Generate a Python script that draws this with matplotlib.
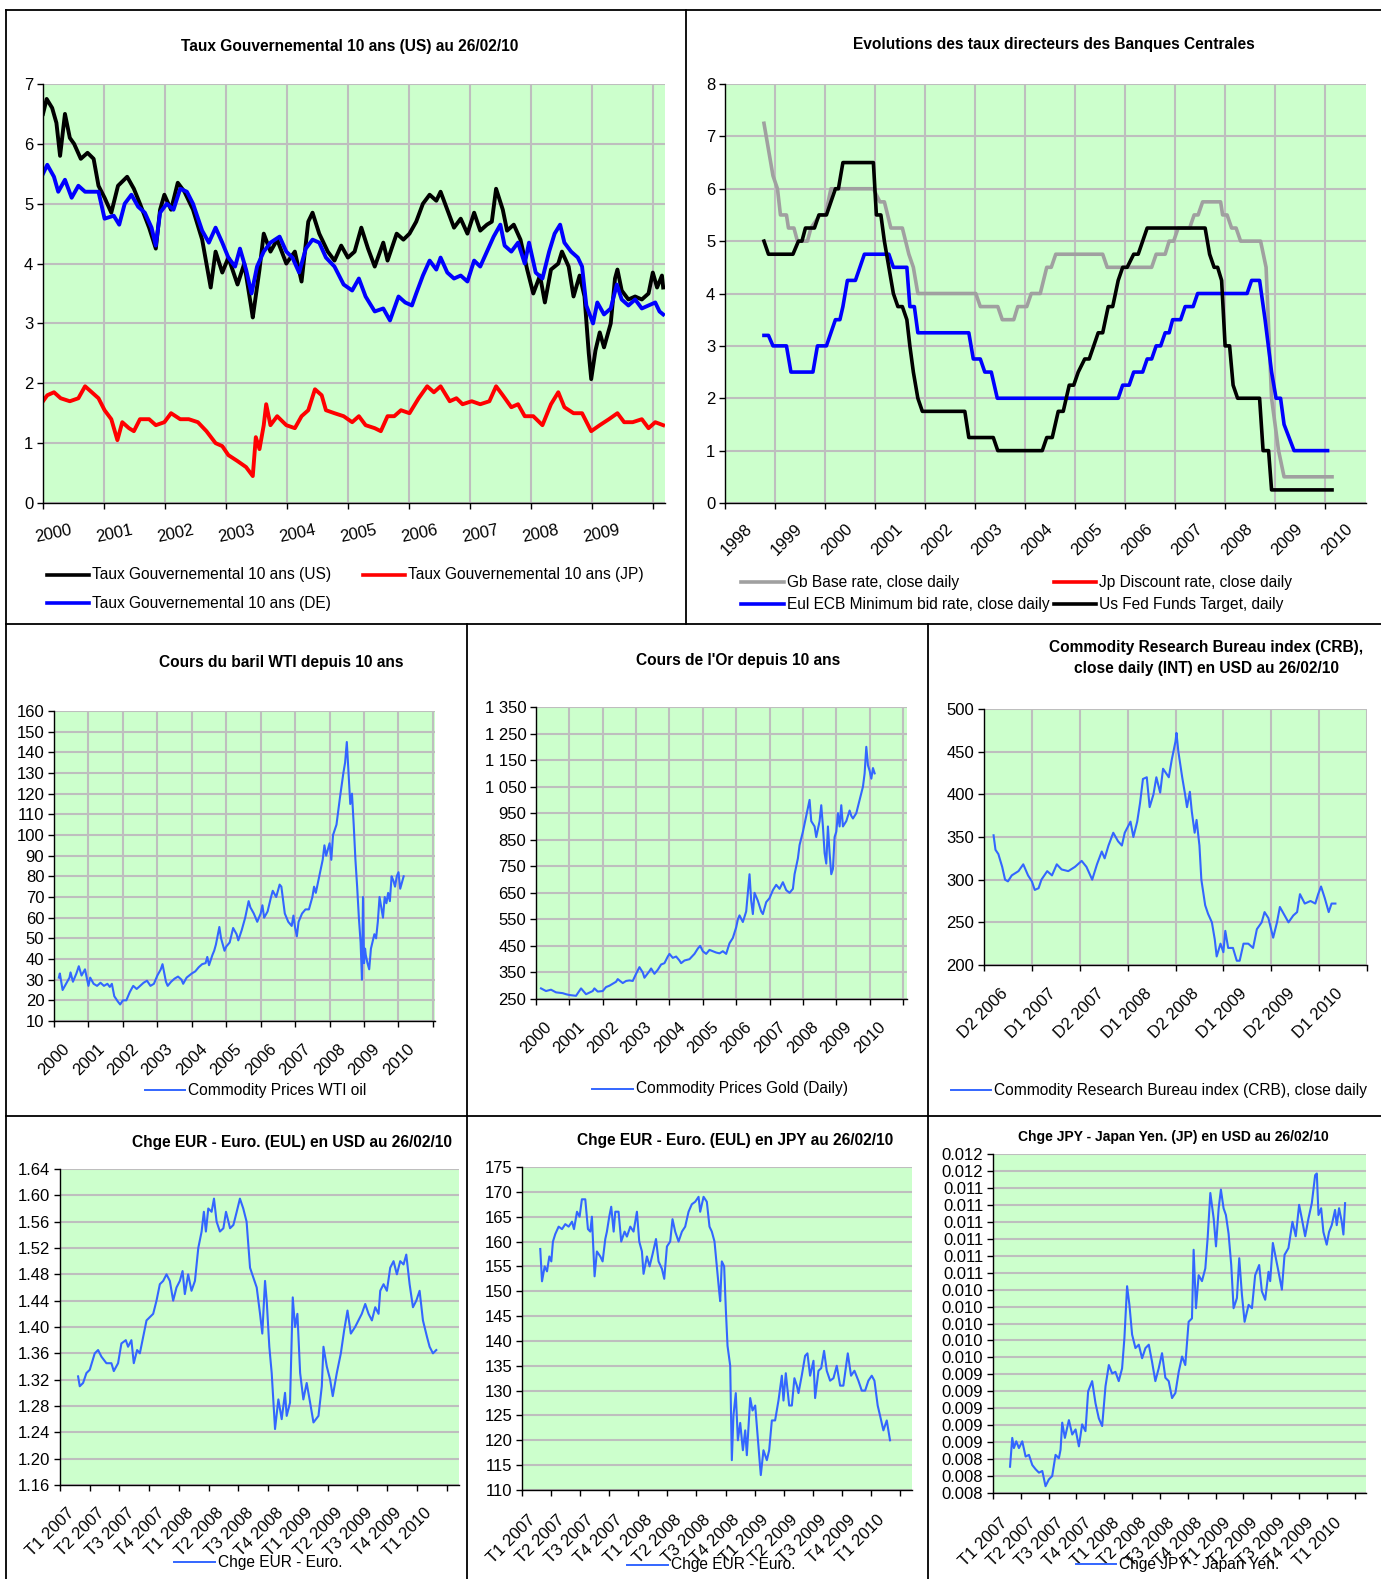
import matplotlib
matplotlib.use("Agg")
import matplotlib.pyplot as plt
from matplotlib.lines import Line2D

plt.rcParams['font.family'] = ['Liberation Sans', 'DejaVu Sans']

W, H = 1381, 1579
GREEN = '#CCFFCC'
GRID = '#BEBEBE'
LBLUE = '#3366FF'
TICK_FS = 12

# ---- Taux gouvernementaux 10 ans ----
us_t = [2000.00, 2000.06, 2000.15, 2000.22, 2000.28, 2000.36, 2000.44, 2000.51, 2000.62, 2000.73, 2000.83,
        2000.91, 2001.01, 2001.12, 2001.23, 2001.38, 2001.49, 2001.59, 2001.74, 2001.85, 2001.92, 2001.99,
        2002.10, 2002.21, 2002.32, 2002.46, 2002.61, 2002.75, 2002.83, 2002.94, 2003.04, 2003.19, 2003.30,
        2003.41, 2003.44, 2003.55, 2003.62, 2003.73, 2003.84, 2003.99, 2004.13, 2004.24, 2004.35, 2004.42,
        2004.53, 2004.67, 2004.78, 2004.89, 2005.00, 2005.11, 2005.22, 2005.33, 2005.44, 2005.58, 2005.65,
        2005.80, 2005.91, 2006.01, 2006.12, 2006.23, 2006.34, 2006.45, 2006.52, 2006.63, 2006.74, 2006.85,
        2006.96, 2007.07, 2007.17, 2007.28, 2007.36, 2007.43, 2007.54, 2007.61, 2007.72, 2007.83, 2007.94,
        2008.04, 2008.15, 2008.23, 2008.33, 2008.45, 2008.51, 2008.62, 2008.70, 2008.80, 2008.88, 2008.95,
        2008.99, 2009.06, 2009.13, 2009.20, 2009.31, 2009.38, 2009.42, 2009.49, 2009.60, 2009.71, 2009.82,
        2009.93, 2010.00, 2010.07, 2010.15, 2010.17]
us_v = [6.5, 6.75, 6.6, 6.35, 5.8, 6.5, 6.1, 6.0, 5.75, 5.85, 5.75,
        5.3, 5.1, 4.85, 5.3, 5.45, 5.25, 5.0, 4.6, 4.25, 4.9, 5.15,
        4.9, 5.35, 5.2, 4.9, 4.4, 3.6, 4.2, 3.85, 4.1, 3.65, 4.0,
        3.3, 3.1, 3.9, 4.5, 4.2, 4.4, 4.0, 4.2, 3.7, 4.7, 4.85,
        4.5, 4.2, 4.05, 4.3, 4.1, 4.2, 4.6, 4.25, 3.95, 4.35, 4.05,
        4.5, 4.4, 4.5, 4.7, 5.0, 5.15, 5.05, 5.2, 4.9, 4.6, 4.75,
        4.5, 4.85, 4.55, 4.65, 4.7, 5.25, 4.9, 4.55, 4.65, 4.4, 3.9,
        3.5, 3.8, 3.35, 3.9, 4.0, 4.2, 3.95, 3.45, 3.8, 3.45, 2.5,
        2.07, 2.55, 2.85, 2.6, 3.0, 3.75, 3.9, 3.55, 3.4, 3.45, 3.4,
        3.5, 3.85, 3.6, 3.8, 3.6]
de_t = [2000.00, 2000.07, 2000.18, 2000.25, 2000.36, 2000.47, 2000.58, 2000.69, 2000.80, 2000.91, 2001.01,
        2001.16, 2001.25, 2001.34, 2001.45, 2001.56, 2001.67, 2001.78, 2001.85, 2001.92, 2002.03, 2002.14,
        2002.25, 2002.36, 2002.46, 2002.61, 2002.72, 2002.83, 2002.94, 2003.04, 2003.15, 2003.23, 2003.33,
        2003.42, 2003.51, 2003.62, 2003.73, 2003.88, 2003.99, 2004.09, 2004.20, 2004.31, 2004.42, 2004.53,
        2004.64, 2004.78, 2004.93, 2005.07, 2005.18, 2005.29, 2005.44, 2005.58, 2005.69, 2005.83, 2005.94,
        2006.05, 2006.12, 2006.23, 2006.34, 2006.45, 2006.52, 2006.63, 2006.74, 2006.85, 2006.96, 2007.07,
        2007.17, 2007.28, 2007.39, 2007.50, 2007.57, 2007.68, 2007.79, 2007.90, 2007.97, 2008.08, 2008.19,
        2008.30, 2008.39, 2008.48, 2008.55, 2008.66, 2008.77, 2008.84, 2008.91, 2009.02, 2009.09, 2009.20,
        2009.31, 2009.41, 2009.49, 2009.60, 2009.71, 2009.82, 2009.93, 2010.04, 2010.11, 2010.17]
de_v = [5.5, 5.65, 5.45, 5.2, 5.4, 5.1, 5.3, 5.2, 5.2, 5.2, 4.75,
        4.8, 4.65, 5.0, 5.15, 4.95, 4.85, 4.6, 4.3, 4.85, 5.0, 4.9,
        5.25, 5.2, 5.0, 4.55, 4.35, 4.6, 4.35, 4.1, 3.95, 4.25, 3.9,
        3.5, 3.95, 4.2, 4.35, 4.45, 4.2, 4.1, 3.85, 4.25, 4.4, 4.35,
        4.1, 3.95, 3.65, 3.55, 3.75, 3.45, 3.2, 3.25, 3.05, 3.45, 3.35,
        3.3, 3.5, 3.8, 4.05, 3.9, 4.1, 3.85, 3.75, 3.8, 3.7, 4.05,
        3.95, 4.2, 4.45, 4.65, 4.3, 4.2, 4.35, 4.0, 4.35, 3.85, 3.75,
        4.2, 4.5, 4.65, 4.35, 4.2, 4.1, 3.95, 3.3, 3.0, 3.35, 3.15,
        3.25, 3.65, 3.4, 3.3, 3.4, 3.25, 3.3, 3.35, 3.2, 3.15]
jp_t = [2000.00, 2000.07, 2000.18, 2000.29, 2000.44, 2000.58, 2000.69, 2000.80, 2000.91, 2001.01, 2001.12,
        2001.22, 2001.30, 2001.41, 2001.49, 2001.59, 2001.74, 2001.85, 2001.99, 2002.10, 2002.25, 2002.39,
        2002.54, 2002.68, 2002.83, 2002.94, 2003.04, 2003.19, 2003.33, 2003.44, 2003.49, 2003.55, 2003.62,
        2003.66, 2003.73, 2003.84, 2003.99, 2004.13, 2004.24, 2004.35, 2004.46, 2004.57, 2004.64, 2004.78,
        2004.93, 2005.07, 2005.18, 2005.29, 2005.44, 2005.54, 2005.65, 2005.76, 2005.87, 2006.01, 2006.16,
        2006.30, 2006.41, 2006.52, 2006.67, 2006.78, 2006.88, 2007.03, 2007.17, 2007.32, 2007.43, 2007.54,
        2007.68, 2007.79, 2007.90, 2008.04, 2008.19, 2008.33, 2008.45, 2008.55, 2008.70, 2008.84, 2008.99,
        2009.13, 2009.28, 2009.42, 2009.53, 2009.67, 2009.82, 2009.93, 2010.04, 2010.17]
jp_v = [1.7, 1.8, 1.85, 1.75, 1.7, 1.75, 1.95, 1.85, 1.75, 1.55, 1.4,
        1.05, 1.35, 1.25, 1.2, 1.4, 1.4, 1.3, 1.35, 1.5, 1.4, 1.4,
        1.35, 1.2, 1.0, 0.95, 0.8, 0.7, 0.6, 0.45, 1.1, 0.9, 1.3,
        1.65, 1.3, 1.45, 1.3, 1.25, 1.45, 1.55, 1.9, 1.8, 1.55, 1.5,
        1.45, 1.35, 1.45, 1.3, 1.25, 1.2, 1.45, 1.45, 1.55, 1.5, 1.75,
        1.95, 1.85, 1.95, 1.7, 1.75, 1.65, 1.7, 1.65, 1.7, 1.95, 1.8,
        1.6, 1.65, 1.45, 1.45, 1.3, 1.65, 1.85, 1.6, 1.5, 1.5, 1.2,
        1.3, 1.4, 1.5, 1.35, 1.35, 1.4, 1.25, 1.35, 1.3]
gov_years = list(range(2000, 2011))
gov_labels = [str(y) for y in range(2000, 2010)]

# ---- Taux directeurs ----
gb_t = [1998.78, 1998.96, 1999.05, 1999.11, 1999.23, 1999.27, 1999.38, 1999.45, 1999.65, 1999.72, 1999.90,
        2000.01, 2000.12, 2000.97, 2001.10, 2001.19, 2001.32, 2001.55, 2001.68, 2001.77, 2001.86, 2003.02,
        2003.11, 2003.46, 2003.55, 2003.78, 2003.86, 2004.04, 2004.13, 2004.31, 2004.44, 2004.53, 2004.62,
        2005.56, 2005.65, 2006.54, 2006.63, 2006.81, 2006.89, 2006.98, 2007.07, 2007.30, 2007.39, 2007.47,
        2007.56, 2007.92, 2007.96, 2008.05, 2008.14, 2008.23, 2008.32, 2008.72, 2008.83, 2008.94, 2009.08,
        2009.19, 2010.15]
gb_v = [7.25, 6.25, 6.0, 5.5, 5.5, 5.25, 5.25, 5.0, 5.0, 5.25, 5.5,
        5.5, 6.0, 6.0, 5.75, 5.75, 5.25, 5.25, 4.75, 4.5, 4.0, 4.0,
        3.75, 3.75, 3.5, 3.5, 3.75, 3.75, 4.0, 4.0, 4.5, 4.5, 4.75,
        4.75, 4.5, 4.5, 4.75, 4.75, 5.0, 5.0, 5.25, 5.25, 5.5, 5.5,
        5.75, 5.75, 5.5, 5.5, 5.25, 5.25, 5.0, 5.0, 4.5, 2.0, 1.0,
        0.5, 0.5]
fed_t = [1998.78, 1998.87, 1999.36, 1999.47, 1999.54, 1999.61, 1999.79, 1999.88, 2000.03, 2000.12, 2000.21,
         2000.27, 2000.36, 2000.97, 2001.03, 2001.12, 2001.19, 2001.28, 2001.37, 2001.46, 2001.55, 2001.64,
         2001.70, 2001.77, 2001.86, 2001.95, 2002.80, 2002.88, 2003.37, 2003.46, 2004.35, 2004.44, 2004.55,
         2004.67, 2004.77, 2004.89, 2004.98, 2005.07, 2005.20, 2005.29, 2005.38, 2005.47, 2005.56, 2005.67,
         2005.76, 2005.87, 2005.96, 2006.05, 2006.18, 2006.27, 2006.36, 2006.45, 2007.61, 2007.70, 2007.79,
         2007.86, 2007.94, 2008.01, 2008.10, 2008.17, 2008.26, 2008.70, 2008.77, 2008.88, 2008.94, 2010.15]
fed_v = [5.0, 4.75, 4.75, 5.0, 5.0, 5.25, 5.25, 5.5, 5.5, 5.75, 6.0,
         6.0, 6.5, 6.5, 5.5, 5.5, 5.0, 4.5, 4.0, 3.75, 3.75, 3.5,
         3.0, 2.5, 2.0, 1.75, 1.75, 1.25, 1.25, 1.0, 1.0, 1.25, 1.25,
         1.75, 1.75, 2.25, 2.25, 2.5, 2.75, 2.75, 3.0, 3.25, 3.25, 3.75,
         3.75, 4.25, 4.5, 4.5, 4.75, 4.75, 5.0, 5.25, 5.25, 4.75, 4.5,
         4.5, 4.25, 3.0, 3.0, 2.25, 2.0, 2.0, 1.0, 1.0, 0.25, 0.25]
ecb_t = [1998.78, 1998.87, 1998.96, 1999.23, 1999.32, 1999.76, 1999.85, 2000.03, 2000.12, 2000.21, 2000.30,
         2000.36, 2000.45, 2000.61, 2000.70, 2000.79, 2001.28, 2001.37, 2001.64, 2001.70, 2001.79, 2001.86,
         2002.88, 2002.97, 2003.11, 2003.20, 2003.33, 2003.45, 2005.87, 2005.96, 2006.09, 2006.18, 2006.36,
         2006.45, 2006.54, 2006.63, 2006.72, 2006.81, 2006.89, 2006.96, 2007.12, 2007.21, 2007.37, 2007.46,
         2008.45, 2008.54, 2008.70, 2008.81, 2008.94, 2009.03, 2009.12, 2009.19, 2009.39, 2010.06]
ecb_v = [3.2, 3.2, 3.0, 3.0, 2.5, 2.5, 3.0, 3.0, 3.25, 3.5, 3.5,
         3.75, 4.25, 4.25, 4.5, 4.75, 4.75, 4.5, 4.5, 3.75, 3.75, 3.25,
         3.25, 2.75, 2.75, 2.5, 2.5, 2.0, 2.0, 2.25, 2.25, 2.5, 2.5,
         2.75, 2.75, 3.0, 3.0, 3.25, 3.25, 3.5, 3.5, 3.75, 3.75, 4.0,
         4.0, 4.25, 4.25, 3.5, 2.5, 2.0, 2.0, 1.5, 1.0, 1.0]
cb_years = list(range(1998, 2011))

# ---- WTI ----
wti_t = [2000.14, 2000.17, 2000.25, 2000.35, 2000.45, 2000.48, 2000.55, 2000.65, 2000.72, 2000.80, 2000.90, 2000.95,
         2001.00, 2001.05, 2001.15, 2001.25, 2001.35, 2001.45, 2001.55, 2001.62, 2001.68, 2001.75, 2001.85, 2001.92,
         2002.00, 2002.10, 2002.20, 2002.30, 2002.40, 2002.50, 2002.60, 2002.70, 2002.80, 2002.90,
         2003.00, 2003.10, 2003.15, 2003.25, 2003.30, 2003.40, 2003.50, 2003.60, 2003.70, 2003.75, 2003.85,
         2004.00, 2004.10, 2004.20, 2004.30, 2004.40, 2004.45, 2004.50, 2004.60, 2004.65, 2004.70, 2004.80, 2004.85, 2004.95,
         2005.00, 2005.10, 2005.20, 2005.30, 2005.35, 2005.45, 2005.55, 2005.65, 2005.70, 2005.80, 2005.90,
         2006.00, 2006.05, 2006.10, 2006.20, 2006.30, 2006.35, 2006.45, 2006.55, 2006.60, 2006.70, 2006.80, 2006.90, 2006.95,
         2007.00, 2007.05, 2007.10, 2007.20, 2007.30, 2007.40, 2007.50, 2007.55, 2007.60, 2007.70, 2007.80, 2007.85, 2007.90,
         2008.00, 2008.05, 2008.10, 2008.20, 2008.30, 2008.40, 2008.45, 2008.50, 2008.55, 2008.60, 2008.65, 2008.70,
         2008.75, 2008.80, 2008.85, 2008.90, 2008.94, 2008.97,
         2009.00, 2009.03, 2009.05, 2009.10, 2009.15, 2009.20, 2009.30, 2009.35, 2009.40, 2009.45, 2009.50, 2009.55,
         2009.60, 2009.65, 2009.70, 2009.75, 2009.80, 2009.85, 2009.90, 2009.95,
         2010.00, 2010.05, 2010.10, 2010.15]
wti_v = [31, 33, 25, 28, 31, 33.5, 29, 33, 36.5, 32, 35, 31,
         27, 31, 28, 27, 28.5, 27, 28, 26.5, 28, 22, 19.5, 18,
         20, 20, 24, 27, 25.5, 27, 28.5, 29.5, 27, 28,
         32, 35, 37.5, 29, 27, 29, 30.5, 31.5, 30, 28, 31,
         33, 34, 36, 37.5, 38, 41, 37, 42, 44, 47, 55.5, 50, 44,
         46, 48, 55, 52, 49, 54, 60, 68, 65, 62, 58,
         62, 66, 60, 63, 70, 73, 70, 76, 75, 62, 58, 56, 61,
         55, 51, 58, 62, 64, 64, 70, 75, 72, 80, 88, 95, 90,
         96, 88, 100, 105, 118, 130, 135, 145, 130, 115, 120, 105,
         88, 75, 60, 48, 30, 70,
         38, 45, 42, 38, 35, 45, 52, 50, 58, 70, 65, 60,
         70, 67, 72, 68, 80, 78, 75, 80,
         82, 74, 77, 80]
wti_years = list(range(2000, 2012))
wti_labels = [str(y) for y in range(2000, 2011)]
wti_yticks = list(range(10, 161, 10))

# ---- Or ----
gold_t = [2000.15, 2000.30, 2000.45, 2000.60, 2000.80, 2000.90,
          2001.00, 2001.20, 2001.35, 2001.50, 2001.70, 2001.75, 2001.85,
          2002.00, 2002.10, 2002.20, 2002.40, 2002.45, 2002.60, 2002.70, 2002.80, 2002.90,
          2003.00, 2003.10, 2003.20, 2003.25, 2003.40, 2003.45, 2003.55, 2003.65, 2003.75, 2003.85, 2003.95,
          2004.00, 2004.10, 2004.20, 2004.30, 2004.35, 2004.45, 2004.60, 2004.75, 2004.85, 2004.92,
          2005.00, 2005.10, 2005.20, 2005.30, 2005.40, 2005.50, 2005.60, 2005.70, 2005.75, 2005.80, 2005.90,
          2006.00, 2006.05, 2006.10, 2006.20, 2006.30, 2006.35, 2006.40, 2006.45, 2006.50, 2006.55, 2006.65,
          2006.75, 2006.80, 2006.90,
          2007.00, 2007.10, 2007.20, 2007.30, 2007.40, 2007.50, 2007.60, 2007.70, 2007.75, 2007.85, 2007.90,
          2008.00, 2008.10, 2008.20, 2008.25, 2008.35, 2008.40, 2008.50, 2008.55, 2008.60, 2008.65, 2008.70,
          2008.75, 2008.80, 2008.85, 2008.90, 2008.95,
          2009.00, 2009.05, 2009.10, 2009.15, 2009.20, 2009.30, 2009.40, 2009.45, 2009.50, 2009.60, 2009.70,
          2009.80, 2009.85, 2009.90, 2009.95,
          2010.00, 2010.05, 2010.10, 2010.15]
gold_v = [290, 280, 285, 275, 272, 268,
          265, 262, 290, 268, 280, 290, 278,
          280, 295, 300, 315, 325, 310, 318, 320, 318,
          345, 370, 350, 330, 355, 365, 345, 360, 380, 385, 410,
          420, 405, 410, 395, 385, 395, 400, 420, 440, 450,
          430, 420, 435, 430, 425, 422, 430, 420, 440, 460, 480,
          520, 550, 565, 540, 580, 650, 720, 620, 570, 650, 620,
          580, 570, 615,
          630, 660, 680, 665, 690, 660, 650, 665, 720, 780, 830,
          880, 940, 1000, 920, 900, 860, 920, 980, 900, 800, 760,
          900, 800, 720, 740, 860,
          880, 950, 900, 980, 900, 920, 960, 940, 930, 950, 1000,
          1050, 1100, 1200, 1130,
          1110, 1080, 1120, 1100]
gold_yticks = list(range(250, 1351, 100))
gold_ylabels = ['250', '350', '450', '550', '650', '750', '850', '950', '1 050', '1 150', '1 250', '1 350']

# ---- CRB ----
crb_t = [2006.60, 2006.62, 2006.65, 2006.69, 2006.72, 2006.75, 2006.79, 2006.86, 2006.91, 2006.96,
         2007.00, 2007.03, 2007.07, 2007.10, 2007.16, 2007.21, 2007.26, 2007.31, 2007.38, 2007.45, 2007.52,
         2007.57, 2007.63, 2007.68, 2007.73, 2007.76, 2007.80, 2007.85, 2007.90, 2007.94, 2007.97,
         2008.03, 2008.06, 2008.10, 2008.13, 2008.16, 2008.20, 2008.23, 2008.27, 2008.30, 2008.34, 2008.37,
         2008.43, 2008.46, 2008.50, 2008.51, 2008.53, 2008.57, 2008.60, 2008.62, 2008.65, 2008.67, 2008.70,
         2008.72, 2008.75, 2008.77, 2008.81, 2008.84, 2008.88, 2008.91, 2008.93, 2008.97,
         2009.00, 2009.02, 2009.05, 2009.10, 2009.14, 2009.17, 2009.21, 2009.26, 2009.31, 2009.35, 2009.40,
         2009.43, 2009.47, 2009.52, 2009.56, 2009.59, 2009.63, 2009.68, 2009.73, 2009.77, 2009.80, 2009.85,
         2009.91, 2009.96, 2009.99,
         2010.02, 2010.06, 2010.10, 2010.13, 2010.17]
crb_v = [352, 335, 330, 315, 300, 298, 305, 310, 318, 305,
         298, 288, 290, 300, 310, 305, 318, 312, 310, 315, 322,
         315, 300, 318, 333, 325, 340, 355, 345, 340, 355,
         368, 350, 368, 390, 418, 420, 385, 400, 420, 402, 430,
         420, 440, 462, 472, 450, 420, 400, 385, 403, 380, 355,
         370, 340, 300, 270, 260, 250, 230, 210, 225,
         215, 240, 220, 220, 205, 205, 225, 225, 220, 242, 250,
         262, 255, 232, 250, 268, 260, 250, 258, 262, 283, 272,
         275, 272, 283,
         292, 278, 262, 272, 272]
crb_ticks = [2006.5, 2007.0, 2007.5, 2008.0, 2008.5, 2009.0, 2009.5, 2010.0, 2010.5]
crb_labels = ['D2 2006', 'D1 2007', 'D2 2007', 'D1 2008', 'D2 2008', 'D1 2009', 'D2 2009', 'D1 2010']
crb_yticks = [200, 250, 300, 350, 400, 450, 500]

# ---- trimestres (changes) ----
q_ticks = [2007.0, 2007.25, 2007.5, 2007.75, 2008.0, 2008.25, 2008.5, 2008.75,
           2009.0, 2009.25, 2009.5, 2009.75, 2010.0, 2010.25]
q_labels = ['T1 2007', 'T2 2007', 'T3 2007', 'T4 2007', 'T1 2008', 'T2 2008', 'T3 2008', 'T4 2008',
            'T1 2009', 'T2 2009', 'T3 2009', 'T4 2009', 'T1 2010']

eurusd_t = [2007.152, 2007.166, 2007.194, 2007.222, 2007.250, 2007.292, 2007.320, 2007.348, 2007.390, 2007.432,
            2007.452, 2007.488, 2007.516, 2007.553, 2007.572, 2007.600, 2007.620, 2007.648, 2007.671, 2007.699,
            2007.727, 2007.755, 2007.783, 2007.811, 2007.839, 2007.867, 2007.895, 2007.923, 2007.951, 2007.979,
            2008.007, 2008.030, 2008.049, 2008.077, 2008.105, 2008.134, 2008.162, 2008.190, 2008.209, 2008.226,
            2008.246, 2008.274, 2008.294, 2008.316, 2008.344, 2008.373, 2008.395, 2008.429, 2008.457, 2008.485,
            2008.512, 2008.540, 2008.568, 2008.597, 2008.625, 2008.653, 2008.681, 2008.700, 2008.723, 2008.737,
            2008.759, 2008.779, 2008.807, 2008.835, 2008.863, 2008.891, 2008.905, 2008.933, 2008.956, 2008.975,
            2008.995, 2009.018, 2009.045, 2009.073, 2009.102, 2009.130, 2009.172, 2009.200, 2009.214, 2009.242,
            2009.270, 2009.292, 2009.326, 2009.360, 2009.388, 2009.416, 2009.444, 2009.480, 2009.508, 2009.536,
            2009.565, 2009.593, 2009.621, 2009.649, 2009.677, 2009.691, 2009.719, 2009.747, 2009.775, 2009.803,
            2009.831, 2009.859, 2009.887, 2009.910, 2009.938, 2009.966, 2009.994, 2010.022, 2010.050, 2010.084,
            2010.106, 2010.134, 2010.162]
eurusd_v = [1.325, 1.31, 1.315, 1.33, 1.335, 1.36, 1.365, 1.355, 1.345, 1.345,
            1.333, 1.345, 1.375, 1.38, 1.37, 1.38, 1.345, 1.365, 1.36, 1.385,
            1.41, 1.415, 1.42, 1.44, 1.465, 1.47, 1.48, 1.47, 1.44, 1.46,
            1.47, 1.485, 1.45, 1.48, 1.455, 1.47, 1.52, 1.545, 1.575, 1.545,
            1.58, 1.575, 1.595, 1.56, 1.545, 1.55, 1.575, 1.55, 1.555, 1.575,
            1.595, 1.58, 1.56, 1.49, 1.475, 1.46, 1.42, 1.39, 1.47, 1.44,
            1.37, 1.33, 1.245, 1.29, 1.26, 1.30, 1.265, 1.285, 1.445, 1.40,
            1.42, 1.33, 1.29, 1.315, 1.285, 1.255, 1.265, 1.31, 1.37, 1.34,
            1.32, 1.295, 1.33, 1.36, 1.395, 1.425, 1.39, 1.40, 1.41, 1.42,
            1.435, 1.42, 1.41, 1.43, 1.42, 1.455, 1.465, 1.455, 1.49, 1.50,
            1.48, 1.50, 1.495, 1.51, 1.465, 1.43, 1.44, 1.455, 1.41, 1.385,
            1.37, 1.36, 1.365]
eurusd_yticks = [1.16, 1.20, 1.24, 1.28, 1.32, 1.36, 1.40, 1.44, 1.48, 1.52, 1.56, 1.60, 1.64]

eurjpy_t = [2007.157, 2007.172, 2007.195, 2007.215, 2007.235, 2007.252, 2007.266, 2007.286, 2007.315, 2007.344,
            2007.372, 2007.401, 2007.430, 2007.447, 2007.473, 2007.495, 2007.515, 2007.544, 2007.567, 2007.587,
            2007.601, 2007.616, 2007.624, 2007.644, 2007.673, 2007.693, 2007.716, 2007.730, 2007.750, 2007.767,
            2007.788, 2007.802, 2007.830, 2007.853, 2007.882, 2007.902, 2007.931, 2007.959, 2007.988, 2008.008,
            2008.031, 2008.045, 2008.074, 2008.097, 2008.123, 2008.152, 2008.174, 2008.203, 2008.223, 2008.246,
            2008.274, 2008.294, 2008.317, 2008.346, 2008.375, 2008.403, 2008.432, 2008.460, 2008.489, 2008.518,
            2008.532, 2008.561, 2008.589, 2008.612, 2008.632, 2008.655, 2008.675, 2008.695, 2008.704, 2008.718,
            2008.738, 2008.753, 2008.767, 2008.790, 2008.804, 2008.818, 2008.838, 2008.856, 2008.876, 2008.899,
            2008.919, 2008.933, 2008.962, 2008.982, 2009.005, 2009.025, 2009.039, 2009.053, 2009.076, 2009.105,
            2009.125, 2009.148, 2009.176, 2009.205, 2009.234, 2009.248, 2009.268, 2009.297, 2009.320, 2009.342,
            2009.363, 2009.377, 2009.405, 2009.434, 2009.454, 2009.477, 2009.506, 2009.520, 2009.549, 2009.572,
            2009.597, 2009.620, 2009.649, 2009.678, 2009.706, 2009.735, 2009.763, 2009.801, 2009.829, 2009.858,
            2009.892, 2009.921, 2009.950, 2009.978, 2010.007, 2010.030, 2010.058, 2010.078, 2010.107, 2010.136,
            2010.164]
eurjpy_v = [158.5, 152, 155, 154, 157, 156, 160, 161.5, 163, 162.5,
            163.5, 163, 164, 162.5, 166, 165, 168.5, 168.5, 162.5, 162,
            165, 157, 153, 158, 157, 156, 160.5, 162, 165, 167,
            162, 166, 166, 160, 162, 161, 163, 162, 166, 160,
            158, 153.5, 157, 155, 157.5, 160.5, 156, 154.5, 152.5, 159,
            160, 164.5, 162, 160, 162, 163, 166, 167.5, 168, 169,
            166, 169, 168, 163, 162, 160, 155, 150, 148, 156,
            155, 146, 139, 135, 116, 125, 129.5, 120, 123.5, 118,
            122, 117, 128.5, 126, 127, 121, 117, 113, 118, 116,
            118, 124, 124, 128, 133, 128, 133.5, 127, 127, 132.5,
            131, 129.5, 133, 137, 137.5, 133, 136, 128.5, 134, 134.5,
            138, 134, 132, 132.5, 135, 131, 131, 137.5, 133, 134,
            132, 130, 130, 132, 133, 132, 127, 125, 122, 124,
            120]
eurjpy_yticks = list(range(110, 176, 5))

jpy_t = [2007.153, 2007.173, 2007.188, 2007.209, 2007.233, 2007.263, 2007.293, 2007.323, 2007.353, 2007.383,
         2007.413, 2007.443, 2007.472, 2007.502, 2007.532, 2007.562, 2007.592, 2007.607, 2007.622, 2007.646,
         2007.682, 2007.712, 2007.742, 2007.772, 2007.801, 2007.831, 2007.855, 2007.891, 2007.921, 2007.951,
         2007.981, 2008.011, 2008.041, 2008.071, 2008.100, 2008.130, 2008.160, 2008.181, 2008.205, 2008.226,
         2008.250, 2008.280, 2008.310, 2008.340, 2008.370, 2008.400, 2008.429, 2008.459, 2008.489, 2008.519,
         2008.549, 2008.579, 2008.609, 2008.639, 2008.669, 2008.699, 2008.728, 2008.758, 2008.788, 2008.803,
         2008.824, 2008.848, 2008.878, 2008.908, 2008.929, 2008.953, 2008.983, 2009.004, 2009.028, 2009.048,
         2009.072, 2009.093, 2009.117, 2009.141, 2009.162, 2009.192, 2009.213, 2009.237, 2009.261, 2009.297,
         2009.327, 2009.356, 2009.392, 2009.416, 2009.446, 2009.476, 2009.491, 2009.515, 2009.542, 2009.566,
         2009.596, 2009.620, 2009.655, 2009.691, 2009.721, 2009.751, 2009.775, 2009.805, 2009.835, 2009.865,
         2009.895, 2009.910, 2009.925, 2009.949, 2009.969, 2009.999, 2010.020, 2010.044, 2010.074, 2010.089,
         2010.110, 2010.134, 2010.149, 2010.164]
jpy_v = [0.00831, 0.00865, 0.00853, 0.00861, 0.00853, 0.00861, 0.00843, 0.00845, 0.00833, 0.00828,
         0.00824, 0.00826, 0.00808, 0.00816, 0.00820, 0.00845, 0.00841, 0.00851, 0.00883, 0.00865,
         0.00886, 0.00869, 0.00875, 0.00855, 0.00881, 0.00873, 0.00920, 0.00932, 0.00906, 0.00888,
         0.00879, 0.00926, 0.00951, 0.00941, 0.00943, 0.00932, 0.00947, 0.00983, 0.01044, 0.01022,
         0.00987, 0.00971, 0.00975, 0.00959, 0.00971, 0.00975, 0.00955, 0.00932, 0.00947, 0.00965,
         0.00936, 0.00932, 0.00912, 0.00918, 0.00943, 0.00961, 0.00951, 0.01002, 0.01006, 0.01087,
         0.01018, 0.01057, 0.01050, 0.01065, 0.01101, 0.01154, 0.01124, 0.01091, 0.01136, 0.01158,
         0.01136, 0.01128, 0.01106, 0.01069, 0.01018, 0.01030, 0.01077, 0.01034, 0.01002, 0.01022,
         0.01018, 0.01057, 0.01069, 0.01038, 0.01028, 0.01061, 0.01050, 0.01095, 0.01077, 0.01061,
         0.01040, 0.01081, 0.01089, 0.01120, 0.01103, 0.01140, 0.01124, 0.01103, 0.01124, 0.01142,
         0.01175, 0.01177, 0.01128, 0.01136, 0.01108, 0.01093, 0.01108, 0.01116, 0.01134, 0.01116,
         0.01136, 0.01120, 0.01105, 0.01142]
jpy_yticks = [0.0080, 0.0082, 0.0084, 0.0086, 0.0088, 0.0090, 0.0092, 0.0094, 0.0096, 0.0098, 0.0100,
              0.0102, 0.0104, 0.0106, 0.0108, 0.0110, 0.0112, 0.0114, 0.0116, 0.0118, 0.0120]
jpy_ylabels = ['0.008', '0.008', '0.008', '0.009', '0.009', '0.009', '0.009', '0.009', '0.010', '0.010', '0.010',
               '0.010', '0.010', '0.011', '0.011', '0.011', '0.011', '0.011', '0.011', '0.012', '0.012']


fig = plt.figure(figsize=(W / 100, H / 100), dpi=100)


def px_rect(l, t, r, b):
    return [l / W, 1 - b / H, (r - l) / W, (b - t) / H]


def make_axes(box, xlim, ylim, xticks, yticks, ylabels, vgrid=True):
    ax = fig.add_axes(px_rect(*box))
    ax.set_facecolor(GREEN)
    ax.set_xlim(*xlim)
    ax.set_ylim(*ylim)
    ax.set_xticks(xticks)
    ax.set_xticklabels([])
    ax.set_yticks(yticks)
    ax.set_yticklabels(ylabels, fontsize=TICK_FS)
    ax.tick_params(direction='out', length=4, width=1, color='black', pad=3)
    for s in ('top', 'right'):
        ax.spines[s].set_visible(False)
    for s in ('left', 'bottom'):
        ax.spines[s].set_color('black')
        ax.spines[s].set_linewidth(1)
    ax.set_axisbelow(True)
    ax.grid(axis='y', color=GRID, lw=1.5)
    if vgrid:
        ax.grid(axis='x', color=GRID, lw=1.5)
    return ax


def xlabels(ax, ticks, labels, rot, dx, dy, ha='right', va='top', mode='anchor'):
    for t, s in zip(ticks, labels):
        ax.annotate(s, xy=(t, 0), xycoords=('data', 'axes fraction'), xytext=(dx, -dy),
                    textcoords='offset pixels', rotation=rot, ha=ha, va=va,
                    rotation_mode=mode, fontsize=TICK_FS, annotation_clip=False)


def title(cx, cy, s, size=11.2):
    fig.text(cx / W, 1 - cy / H, s, ha='center', va='center', fontsize=size, fontweight='bold')


def legend_entry(x1, x2, y, color, lw, s):
    fig.add_artist(Line2D([x1 / W, x2 / W], [1 - y / H, 1 - y / H], color=color, lw=lw))
    fig.text((x2 + 3) / W, 1 - y / H, s, ha='left', va='center', fontsize=11.2)


def frame_line(x1, y1, x2, y2):
    fig.add_artist(Line2D([x1 / W, x2 / W], [1 - y1 / H, 1 - y2 / H], color='black', lw=1.3))


# cadres
frame_line(6, 10, 1381, 10)
frame_line(6, 10, 6, 1579)
frame_line(6, 624, 1381, 624)
frame_line(6, 1116, 1381, 1116)
frame_line(686, 10, 686, 624)
frame_line(467, 624, 467, 1579)
frame_line(928, 624, 928, 1579)

# 1. Taux gouvernementaux
ax = make_axes((43, 84, 665, 503), (2000, 2010.2), (0, 7), gov_years, range(0, 8),
               [str(v) for v in range(0, 8)])
ax.plot(jp_t, jp_v, color='#FF0000', lw=2.8)
ax.plot(us_t, us_v, color='black', lw=2.8)
ax.plot(de_t, de_v, color='#0000FF', lw=2.8)
xlabels(ax, gov_years[:-1], gov_labels, 12, 10, 31, ha='center', va='center', mode='default')
title(350, 46, 'Taux Gouvernemental 10 ans (US) au 26/02/10')
legend_entry(47, 89, 575, 'black', 2.6, 'Taux Gouvernemental 10 ans (US)')
legend_entry(363, 405, 575, '#FF0000', 2.6, 'Taux Gouvernemental 10 ans (JP)')
legend_entry(47, 89, 603, '#0000FF', 2.6, 'Taux Gouvernemental 10 ans (DE)')

# 2. Taux directeurs
ax = make_axes((725, 84, 1366, 503), (1998, 2010.83), (0, 8), cb_years, range(0, 9),
               [str(v) for v in range(0, 9)])
ax.plot(gb_t, gb_v, color='#A0A0A0', lw=2.6)
ax.plot(ecb_t, ecb_v, color='#0000FF', lw=2.6)
ax.plot(fed_t, fed_v, color='black', lw=2.6)
xlabels(ax, cb_years, [str(y) for y in cb_years], 45, 20, 18)
title(1054, 44, 'Evolutions des taux directeurs des Banques Centrales')
legend_entry(741, 784, 582, '#A0A0A0', 2.6, 'Gb Base rate, close daily')
legend_entry(1054, 1096, 582, '#FF0000', 2.6, 'Jp Discount rate, close daily')
legend_entry(741, 784, 604, '#0000FF', 2.6, 'Eul ECB Minimum bid rate, close daily')
legend_entry(1054, 1096, 604, 'black', 2.6, 'Us Fed Funds Target, daily')

# 3. WTI
ax = make_axes((54, 711, 435, 1021), (2000, 2011.06), (10, 160), wti_years, wti_yticks,
               [str(v) for v in wti_yticks])
ax.plot(wti_t, wti_v, color=LBLUE, lw=1.5)
xlabels(ax, wti_years[:-1], wti_labels, 45, 8, 20)
title(281, 663, 'Cours du baril WTI depuis 10 ans')
legend_entry(145, 185, 1090, LBLUE, 1.4, 'Commodity Prices WTI oil')

# 4. Or
ax = make_axes((536, 707, 907, 999), (2000, 2011.12), (250, 1350), wti_years, gold_yticks, gold_ylabels)
ax.plot(gold_t, gold_v, color=LBLUE, lw=1.5)
xlabels(ax, wti_years[:-1], wti_labels, 45, 8, 20)
title(738, 660, "Cours de l'Or depuis 10 ans")
legend_entry(592, 633, 1089, LBLUE, 1.4, 'Commodity Prices Gold (Daily)')

# 5. CRB
ax = make_axes((984, 709, 1367, 965), (2006.5, 2010.5), (200, 500), crb_ticks, crb_yticks,
               [str(v) for v in crb_yticks])
ax.plot(crb_t, crb_v, color=LBLUE, lw=1.5)
xlabels(ax, crb_ticks[:-1], crb_labels, 45, 16, 21)
title(1206, 647, 'Commodity Research Bureau index (CRB),')
title(1206, 668, 'close daily (INT) en USD au 26/02/10')
legend_entry(951, 991, 1090, LBLUE, 1.4, 'Commodity Research Bureau index (CRB), close daily')

# 6. EUR/USD
ax = make_axes((60, 1169, 459, 1485), (2007, 2010.353), (1.16, 1.64), q_ticks, eurusd_yticks,
               ['%.2f' % v for v in eurusd_yticks], vgrid=False)
ax.plot(eurusd_t, eurusd_v, color=LBLUE, lw=1.5)
xlabels(ax, q_ticks[:-1], q_labels, 45, 7, 20)
title(292, 1142, 'Chge EUR - Euro. (EUL) en USD au 26/02/10')
legend_entry(174, 215, 1562, LBLUE, 1.4, 'Chge EUR - Euro.')

# 7. EUR/JPY
ax = make_axes((522, 1167, 912, 1490), (2007, 2010.353), (110, 175), q_ticks, eurjpy_yticks,
               [str(v) for v in eurjpy_yticks], vgrid=False)
ax.plot(eurjpy_t, eurjpy_v, color=LBLUE, lw=1.5)
xlabels(ax, q_ticks[:-1], q_labels, 45, 6, 22)
title(735, 1141, 'Chge EUR - Euro. (EUL) en JPY au 26/02/10')
legend_entry(627, 668, 1565, LBLUE, 1.4, 'Chge EUR - Euro.')

# 8. JPY/USD
ax = make_axes((993, 1154, 1366, 1493), (2007, 2010.352), (0.0080, 0.0120), q_ticks, jpy_yticks,
               jpy_ylabels, vgrid=False)
ax.plot(jpy_t, jpy_v, color=LBLUE, lw=1.5)
xlabels(ax, q_ticks[:-1], q_labels, 45, 7, 22)
title(1173, 1137, 'Chge JPY - Japan Yen. (JP) en USD au 26/02/10', size=10)
legend_entry(1076, 1116, 1564, LBLUE, 1.4, 'Chge JPY - Japan Yen.')

fig.savefig('out.png', dpi=100)
